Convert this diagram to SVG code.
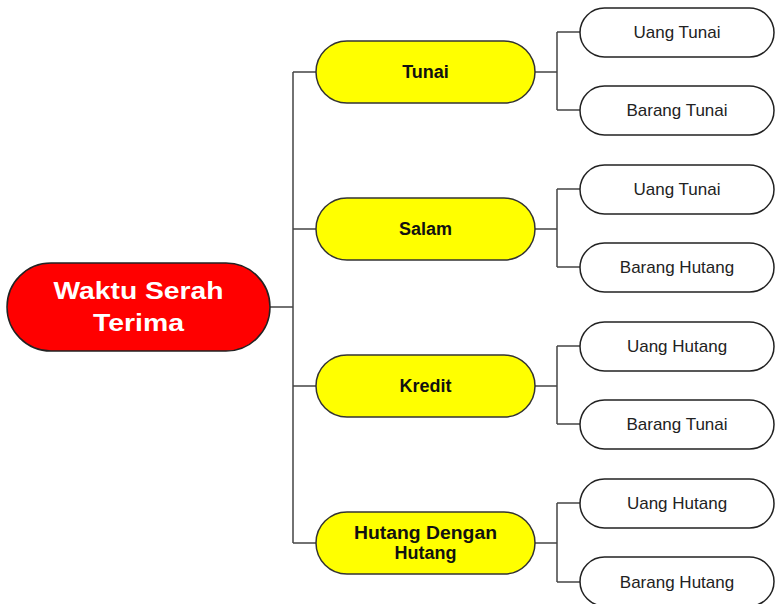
<svg xmlns="http://www.w3.org/2000/svg" width="779" height="604" viewBox="0 0 779 604">
<style>
.c{fill:none;stroke:#444;stroke-width:1.5}
.root{fill:#ff0000;stroke:#222;stroke-width:1.5}
.mid{fill:#ffff00;stroke:#333;stroke-width:1.5}
.leaf{fill:#fff;stroke:#222;stroke-width:1.5}
.tr{font-family:"Liberation Sans",Arial,sans-serif;font-weight:bold;font-size:24px;fill:#fff;text-anchor:middle}
.tm{font-family:"Liberation Sans",Arial,sans-serif;font-weight:bold;font-size:18px;fill:#111;text-anchor:middle}
.tl{font-family:"Liberation Sans",Arial,sans-serif;font-size:17px;fill:#222;text-anchor:middle}
</style>
<g id="connectors">
<path class="c" d="M270 307H293M293 72V543M293 72H316M293 229H316M293 386H316M293 543H316"/>
<path class="c" d="M535 72H557M557 32V110M557 32H580M557 110H580"/>
<path class="c" d="M535 229H557M557 189V267M557 189H580M557 267H580"/>
<path class="c" d="M535 386H557M557 346V424M557 346H580M557 424H580"/>
<path class="c" d="M535 543H557M557 503V582M557 503H580M557 582H580"/>
</g>
<g id="root">
<rect class="root" x="7" y="263" width="263" height="88" rx="44"/>
<text class="tr" x="138.5" y="299" textLength="170" lengthAdjust="spacingAndGlyphs">Waktu Serah</text>
<text class="tr" x="138.5" y="331" textLength="91" lengthAdjust="spacingAndGlyphs">Terima</text>
</g>
<g id="tunai">
<rect class="mid" x="316" y="41" width="219" height="62" rx="31"/>
<text class="tm" x="425.5" y="78">Tunai</text>
</g>
<g id="salam">
<rect class="mid" x="316" y="198" width="219" height="62" rx="31"/>
<text class="tm" x="425.5" y="235">Salam</text>
</g>
<g id="kredit">
<rect class="mid" x="316" y="355" width="219" height="62" rx="31"/>
<text class="tm" x="425.5" y="392">Kredit</text>
</g>
<g id="hutang">
<rect class="mid" x="316" y="512" width="219" height="62" rx="31"/>
<text class="tm" x="425.5" y="539" textLength="143" lengthAdjust="spacingAndGlyphs">Hutang Dengan</text>
<text class="tm" x="425.5" y="559">Hutang</text>
</g>
<g id="leaf1"><rect class="leaf" x="580" y="8" width="194" height="49" rx="24.5"/><text class="tl" x="677" y="38">Uang Tunai</text></g>
<g id="leaf2"><rect class="leaf" x="580" y="86" width="194" height="49" rx="24.5"/><text class="tl" x="677" y="116">Barang Tunai</text></g>
<g id="leaf3"><rect class="leaf" x="580" y="165" width="194" height="49" rx="24.5"/><text class="tl" x="677" y="195">Uang Tunai</text></g>
<g id="leaf4"><rect class="leaf" x="580" y="243" width="194" height="49" rx="24.5"/><text class="tl" x="677" y="273">Barang Hutang</text></g>
<g id="leaf5"><rect class="leaf" x="580" y="322" width="194" height="49" rx="24.5"/><text class="tl" x="677" y="352">Uang Hutang</text></g>
<g id="leaf6"><rect class="leaf" x="580" y="400" width="194" height="49" rx="24.5"/><text class="tl" x="677" y="430">Barang Tunai</text></g>
<g id="leaf7"><rect class="leaf" x="580" y="479" width="194" height="49" rx="24.5"/><text class="tl" x="677" y="509">Uang Hutang</text></g>
<g id="leaf8"><rect class="leaf" x="580" y="557" width="194" height="49" rx="24.5"/><text class="tl" x="677" y="588">Barang Hutang</text></g>
</svg>
